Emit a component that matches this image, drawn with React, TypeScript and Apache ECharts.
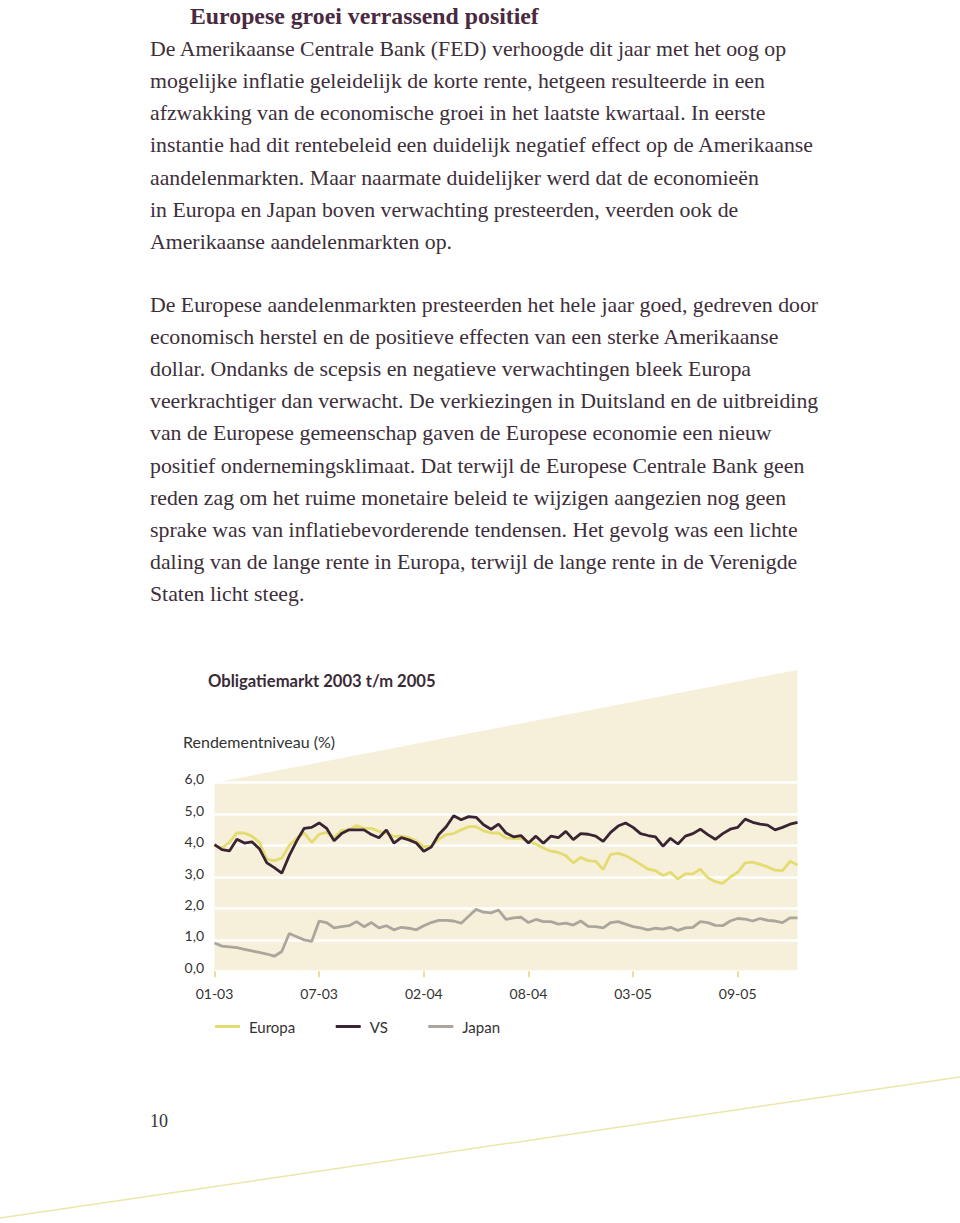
import { useEffect, useRef } from "react";
import * as echarts from "echarts";

// ---- data ----
const tickLabels = ["01-03", "07-03", "02-04", "08-04", "03-05", "09-05"];
const pointsPerTick = 14;
const seriesNames = ["Europa", "VS", "Japan"];

const europa = [
  4.0, 3.93, 4.1, 4.4, 4.4, 4.3, 4.1, 3.56, 3.52, 3.6,
  4.0, 4.24, 4.4, 4.1, 4.36, 4.42, 4.25, 4.48, 4.5, 4.64,
  4.55, 4.55, 4.45, 4.4, 4.29, 4.3, 4.25, 4.15, 3.97, 3.98,
  4.2, 4.35, 4.38, 4.5, 4.6, 4.6, 4.47, 4.4, 4.4, 4.24,
  4.22, 4.23, 4.13, 4.05, 3.92, 3.82, 3.78, 3.68, 3.45, 3.62,
  3.52, 3.5, 3.24, 3.72, 3.75, 3.68, 3.55, 3.4, 3.25, 3.2,
  3.05, 3.15, 2.94, 3.1, 3.1, 3.25, 2.98, 2.85, 2.8, 3.0,
  3.15, 3.45, 3.47, 3.4, 3.32, 3.22, 3.2, 3.5, 3.38,
];
const vs = [
  4.03, 3.87, 3.83, 4.2, 4.08, 4.12, 3.9, 3.45, 3.3, 3.12,
  3.68, 4.15, 4.55, 4.58, 4.72, 4.55, 4.15, 4.38, 4.5, 4.5,
  4.5, 4.35, 4.25, 4.5, 4.08, 4.25, 4.18, 4.08, 3.82, 3.95,
  4.35, 4.6, 4.95, 4.82, 4.92, 4.9, 4.66, 4.52, 4.68, 4.4,
  4.28, 4.32, 4.08, 4.3, 4.07, 4.3, 4.25, 4.45, 4.19, 4.38,
  4.36, 4.3, 4.13, 4.42, 4.62, 4.72, 4.58, 4.38, 4.32, 4.28,
  3.98, 4.23, 4.05, 4.3, 4.38, 4.52, 4.35, 4.2, 4.38, 4.52,
  4.58, 4.84, 4.74, 4.68, 4.65, 4.5, 4.58, 4.68, 4.74,
];
const japan = [
  0.9, 0.8, 0.78, 0.75, 0.7, 0.65, 0.6, 0.55, 0.48, 0.63,
  1.2, 1.1, 1.0, 0.95, 1.6, 1.55, 1.38, 1.42, 1.45, 1.58,
  1.42, 1.55, 1.38, 1.45, 1.32, 1.4, 1.37, 1.32, 1.45, 1.55,
  1.62, 1.62, 1.6, 1.53, 1.75, 1.97, 1.88, 1.86, 1.95, 1.65,
  1.7, 1.72, 1.55, 1.65, 1.58, 1.58, 1.5, 1.53, 1.47, 1.6,
  1.43, 1.42, 1.38, 1.55, 1.58, 1.5, 1.42, 1.38, 1.32, 1.37,
  1.34, 1.4, 1.3, 1.38, 1.4, 1.58, 1.55, 1.46, 1.45, 1.6,
  1.68, 1.66, 1.6, 1.68, 1.62, 1.6, 1.55, 1.7, 1.7,
];
const categories = europa.map((_, i) => String(i));
const yTicks = [0, 1, 2, 3, 4, 5, 6];

const heading = "Europese groei verrassend positief";
const para1 = [
  "De Amerikaanse Centrale Bank (FED) verhoogde dit jaar met het oog op",
  "mogelijke inflatie geleidelijk de korte rente, hetgeen resulteerde in een",
  "afzwakking van de economische groei in het laatste kwartaal. In eerste",
  "instantie had dit rentebeleid een duidelijk negatief effect op de Amerikaanse",
  "aandelenmarkten. Maar naarmate duidelijker werd dat de economieën",
  "in Europa en Japan boven verwachting presteerden, veerden ook de",
  "Amerikaanse aandelenmarkten op.",
];
const para2 = [
  "De Europese aandelenmarkten presteerden het hele jaar goed, gedreven door",
  "economisch herstel en de positieve effecten van een sterke Amerikaanse",
  "dollar. Ondanks de scepsis en negatieve verwachtingen bleek Europa",
  "veerkrachtiger dan verwacht. De verkiezingen in Duitsland en de uitbreiding",
  "van de Europese gemeenschap gaven de Europese economie een nieuw",
  "positief ondernemingsklimaat. Dat terwijl de Europese Centrale Bank geen",
  "reden zag om het ruime monetaire beleid te wijzigen aangezien nog geen",
  "sprake was van inflatiebevorderende tendensen. Het gevolg was een lichte",
  "daling van de lange rente in Europa, terwijl de lange rente in de Verenigde",
  "Staten licht steeg.",
];
const chartTitle = "Obligatiemarkt 2003 t/m 2005";
const yAxisTitle = "Rendementniveau (%)";
const pageNumber = "10";

// ---- layout / style ----
const W = 960;
const H = 1223;
const gridLeft = 214.5;
const gridRight = 797.5;
const gridTop = 782.7;
const gridBottom = 971.3;
const wedgeTop = 670;

const colors = { europa: "#e4dc70", vs: "#3a2434", japan: "#aaa69d" };
const beige = "#f6efda";
const serif = "'Liberation Serif', 'DejaVu Serif', serif";
const sans = "Lato, 'Open Sans', sans-serif";
const textColor = "#3d2f3a";

function buildOption() {
  const graphics: any[] = [];
  graphics.push({
    type: "polygon",
    z: -10,
    silent: true,
    shape: {
      points: [
        [gridLeft, gridTop],
        [gridRight, wedgeTop],
        [gridRight, gridBottom],
        [gridLeft, gridBottom],
      ],
    },
    style: { fill: beige },
  });
  graphics.push({
    type: "line",
    silent: true,
    shape: { x1: 0, y1: 1218, x2: W, y2: 1077 },
    style: { stroke: "#ece6a8", lineWidth: 1.5 },
  });
  graphics.push({
    type: "text",
    x: 190,
    y: 16,
    style: {
      text: heading,
      fill: "#4a2a41",
      fontFamily: serif,
      fontWeight: "bold",
      fontSize: 23.8,
      verticalAlign: "middle",
      align: "left",
    },
  });
  para1.forEach((line, i) => {
    graphics.push({
      type: "text",
      x: 150,
      y: 48.5 + i * 32.3,
      style: { text: line, fill: textColor, fontFamily: serif, fontSize: 21.8, verticalAlign: "middle", align: "left" },
    });
  });
  para2.forEach((line, i) => {
    graphics.push({
      type: "text",
      x: 150,
      y: 305 + i * 32.1,
      style: { text: line, fill: textColor, fontFamily: serif, fontSize: 21.8, verticalAlign: "middle", align: "left" },
    });
  });
  graphics.push({
    type: "text",
    x: 208,
    y: 681,
    style: { text: chartTitle, fill: "#3a2a36", fontFamily: sans, fontWeight: "bold", fontSize: 16.6, verticalAlign: "middle", align: "left" },
  });
  graphics.push({
    type: "text",
    x: 183,
    y: 741,
    style: { text: yAxisTitle, fill: "#333", fontFamily: sans, fontSize: 16, verticalAlign: "middle", align: "left" },
  });
  graphics.push({
    type: "text",
    x: 150,
    y: 1121,
    style: { text: pageNumber, fill: "#333", fontFamily: serif, fontSize: 18, verticalAlign: "middle", align: "left" },
  });

  const lineSeries = (name: string, data: number[], color: string, width: number) => ({
    name,
    type: "line",
    data,
    showSymbol: false,
    symbol: "none",
    color,
    lineStyle: { color, width },
    itemStyle: { color },
  });

  return {
    animation: false,
    backgroundColor: "#ffffff",
    grid: {
      left: gridLeft,
      right: W - gridRight,
      top: gridTop,
      bottom: H - gridBottom,
      containLabel: false,
    },
    legend: {
      data: seriesNames,
      left: 210,
      top: 1014,
      icon: "rect",
      itemWidth: 25,
      itemHeight: 3,
      itemGap: 40.5,
      textStyle: { fontFamily: sans, fontSize: 15, color: "#333", padding: [0, 0, 0, 4] },
    },
    xAxis: {
      type: "category",
      data: categories,
      boundaryGap: false,
      axisLine: { show: false },
      axisTick: {
        show: true,
        interval: pointsPerTick - 1,
        length: 6,
        lineStyle: { color: "#e0d77a", width: 1.5 },
      },
      axisLabel: {
        interval: pointsPerTick - 1,
        margin: 15,
        fontFamily: sans,
        fontSize: 14,
        color: "#333",
        formatter: (_v: string, idx: number) =>
          idx % pointsPerTick === 0 ? tickLabels[idx / pointsPerTick] ?? "" : "",
      },
      splitLine: { show: false },
    },
    yAxis: {
      type: "value",
      min: yTicks[0],
      max: yTicks[yTicks.length - 1],
      interval: 1,
      axisLine: { show: false },
      axisTick: { show: false },
      axisLabel: {
        margin: 10.5,
        fontFamily: sans,
        fontSize: 14,
        color: "#333",
        verticalAlign: "bottom",
        lineHeight: 8,
        formatter: (v: number) => v.toFixed(1).replace(".", ","),
      },
      splitLine: { show: true, lineStyle: { color: "#ffffff", width: 2.5 } },
    },
    graphic: graphics,
    series: [
      lineSeries("Europa", europa, colors.europa, 2.8),
      lineSeries("VS", vs, colors.vs, 2.8),
      lineSeries("Japan", japan, colors.japan, 2.8),
    ],
  };
}

export default function App() {
  const ref = useRef<HTMLDivElement>(null);
  useEffect(() => {
    if (!ref.current) return;
    const chart = echarts.init(ref.current, null, { renderer: "svg" });
    chart.setOption(buildOption() as any);
    return () => chart.dispose();
  }, []);
  return (
    <div
      ref={ref}
      style={{ position: "absolute", left: 0, top: 0, width: W, height: H, background: "#fff" }}
    />
  );
}
